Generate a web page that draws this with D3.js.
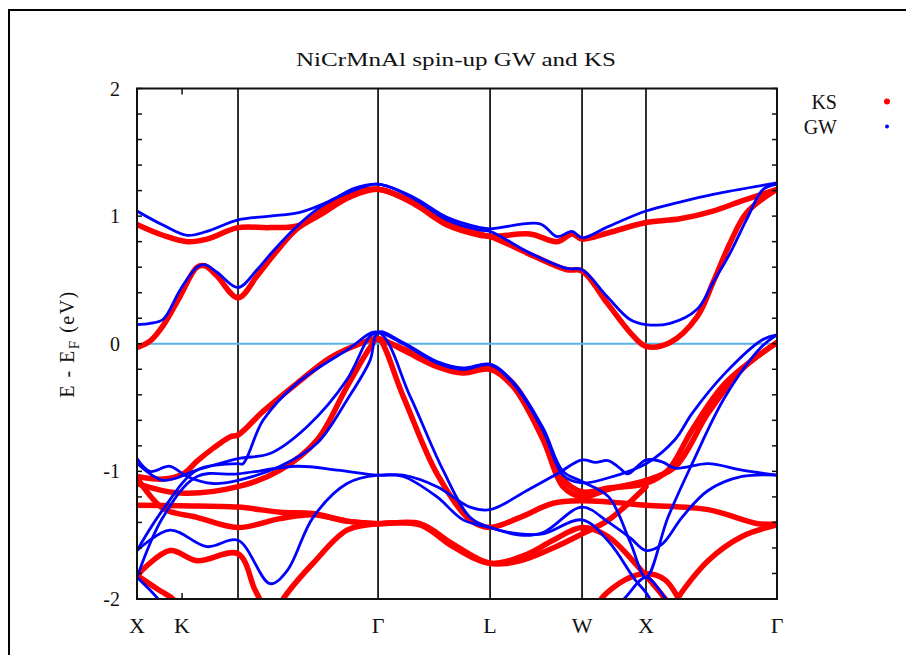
<!DOCTYPE html>
<html>
<head>
<meta charset="utf-8">
<script src="https://cdn.jsdelivr.net/npm/d3@7"></script>
<style>
  body { margin: 0; background: #fff; }
  text { font-family: "Liberation Serif", "Times New Roman", serif; fill: #111; }
</style>
</head>
<body>
<div class="chart"></div>
<script>
// k-path (2pi/a units) and labels
var kPoints = [0, 0.344, 0.771, 1.840, 2.695, 3.397, 3.885, 4.885];
var kLabels = ["X", "K", "", "Γ", "L", "W", "X", "Γ"];
var kLines = [0.771, 1.840, 2.695, 3.397, 3.885];
var yTickValues = [-2, -1, 0, 1, 2];

// KS bands, [k, E - E_F]
var ksA = [[0,0.935],[0.198,0.85],[0.382,0.80],[0.534,0.82],[0.771,0.91],[1.015,0.91],[1.244,0.93],[1.473,1.09],[1.664,1.19],[1.840,1.21],[2.107,1.11],[2.366,0.95],[2.618,0.86],[2.695,0.84],[3.0,0.86],[3.206,0.80],[3.321,0.86],[3.397,0.82],[3.6,0.87],[3.885,0.95],[4.145,0.98],[4.397,1.04],[4.618,1.12],[4.885,1.21]];
var ksB = [[0,-0.03],[0.099,0.02],[0.198,0.14],[0.328,0.37],[0.458,0.60],[0.519,0.61],[0.611,0.53],[0.771,0.36],[0.916,0.53],[1.038,0.69],[1.221,0.90],[1.397,1.01],[1.626,1.15],[1.840,1.21],[2.107,1.10],[2.366,0.93],[2.618,0.85],[2.695,0.84],[3.0,0.70],[3.282,0.58],[3.397,0.57],[3.588,0.32],[3.763,0.09],[3.885,-0.02],[4.069,0.01],[4.275,0.21],[4.397,0.48],[4.527,0.79],[4.656,1.03],[4.885,1.21]];
var ksV1 = [[0,-1.04],[0.198,-1.06],[0.351,-1.02],[0.458,-0.92],[0.580,-0.82],[0.710,-0.73],[0.771,-0.715],[0.962,-0.53],[1.221,-0.31],[1.473,-0.11],[1.679,-0.01],[1.840,0.04],[2.031,-0.05],[2.290,-0.18],[2.489,-0.23],[2.695,-0.20],[2.870,-0.335],[3.099,-0.75],[3.252,-1.12],[3.397,-1.20],[3.6,-1.14],[3.885,-1.07],[4.107,-0.965],[4.359,-0.545],[4.618,-0.20],[4.885,0.01]];
var ksV2 = [[0,-1.095],[0.328,-1.17],[0.771,-1.12],[1.092,-0.99],[1.374,-0.755],[1.603,-0.335],[1.779,-0.03],[1.840,0.04],[2.031,-0.41],[2.290,-1.02],[2.542,-1.38],[2.695,-1.44],[2.924,-1.36],[3.176,-1.25],[3.397,-1.23],[3.6,-1.24],[3.885,-1.265],[4.359,-1.30],[4.740,-1.41],[4.885,-1.41]];
var ksV2b = [[1.840,0.04],[2.031,-0.04],[2.290,-0.16],[2.489,-0.21],[2.695,-0.19],[2.870,-0.31],[3.099,-0.70],[3.252,-1.06],[3.397,-1.16],[3.6,-1.13],[3.885,-1.095],[4.053,-0.99],[4.237,-0.675],[4.489,-0.31],[4.885,0.01]];
var ksV3 = [[0,-1.265],[0.328,-1.27],[0.771,-1.28],[1.092,-1.32],[1.344,-1.33],[1.603,-1.39],[1.840,-1.41],[2.160,-1.41],[2.412,-1.57],[2.695,-1.72],[2.924,-1.70],[3.176,-1.60],[3.397,-1.49],[3.6,-1.38],[3.885,-1.12]];
var ksV3b = [[1.840,-1.41],[2.160,-1.42],[2.412,-1.59],[2.695,-1.72],[2.977,-1.65],[3.176,-1.54],[3.397,-1.44],[3.595,-1.51],[3.802,-1.72],[3.977,-1.93],[4.07,-2.05]];
var ksV4 = [[0,-1.05],[0.198,-1.29],[0.458,-1.36],[0.771,-1.44],[1.092,-1.37],[1.344,-1.34],[1.603,-1.39],[1.840,-1.41]];
var ksV5 = [[0,-1.815],[0.252,-1.62],[0.458,-1.70],[0.771,-1.645],[0.901,-1.93],[0.99,-2.1]];
var ksV6 = [[0,-1.815],[0.153,-1.92],[0.275,-2.0],[0.33,-2.06]];
var ksV7 = [[1.06,-2.1],[1.115,-2.0],[1.221,-1.86],[1.344,-1.72],[1.603,-1.46],[1.840,-1.41]];
var ksX1 = [[3.52,-2.05],[3.550,-1.99],[3.725,-1.85],[3.885,-1.80],[4.031,-1.85],[4.130,-1.99],[4.16,-2.05]];
var ksX2 = [[4.10,-2.05],[4.130,-1.99],[4.359,-1.70],[4.618,-1.51],[4.885,-1.42]];

// GW bands, [k, E - E_F]
var gwA = [[0,1.04],[0.198,0.93],[0.382,0.85],[0.534,0.88],[0.771,0.97],[1.015,1.0],[1.244,1.03],[1.473,1.12],[1.664,1.22],[1.840,1.25],[2.107,1.15],[2.366,0.99],[2.618,0.91],[2.695,0.90],[3.076,0.94],[3.206,0.84],[3.321,0.88],[3.397,0.83],[3.6,0.92],[3.885,1.04],[4.145,1.11],[4.397,1.17],[4.885,1.26]];
var gwB = [[0,0.15],[0.099,0.16],[0.198,0.19],[0.328,0.42],[0.458,0.60],[0.519,0.62],[0.611,0.56],[0.771,0.44],[0.916,0.58],[1.038,0.725],[1.221,0.92],[1.397,1.07],[1.626,1.19],[1.840,1.25],[2.107,1.14],[2.366,0.97],[2.618,0.89],[2.695,0.88],[3.0,0.71],[3.282,0.59],[3.397,0.58],[3.588,0.37],[3.763,0.19],[3.885,0.15],[4.069,0.16],[4.275,0.27],[4.397,0.48],[4.527,0.71],[4.656,0.98],[4.779,1.21],[4.885,1.25]];
var gwV1 = [[0,-0.935],[0.198,-1.07],[0.458,-0.99],[0.771,-0.90],[1.015,-0.86],[1.298,-0.65],[1.603,-0.28],[1.779,0.06],[1.840,0.09],[2.031,0.0],[2.290,-0.15],[2.489,-0.20],[2.695,-0.165],[2.870,-0.31],[3.099,-0.68],[3.252,-1.03],[3.397,-1.09],[3.6,-1.05],[3.885,-0.94],[4.107,-0.75],[4.237,-0.545],[4.489,-0.23],[4.771,0.03],[4.885,0.07]];
var gwV2 = [[0,-1.62],[0.198,-1.30],[0.458,-0.99],[0.771,-0.94],[0.809,-0.94],[0.962,-0.60],[1.221,-0.31],[1.603,-0.05],[1.840,0.09],[2.084,-0.41],[2.336,-0.99],[2.542,-1.36],[2.695,-1.44],[2.924,-1.49],[3.099,-1.49],[3.397,-1.38],[3.6,-1.55],[3.802,-1.85],[3.885,-1.95],[3.95,-2.06]];
var gwV3 = [[0,-1.83],[0.198,-1.36],[0.458,-1.04],[0.771,-1.02],[1.221,-0.96],[1.527,-0.99],[1.840,-1.03],[2.031,-1.03],[2.290,-1.12],[2.542,-1.28],[2.695,-1.30],[2.977,-1.15],[3.206,-1.02],[3.397,-0.91],[3.5,-0.93],[3.595,-0.915],[3.680,-0.97],[3.748,-1.02],[3.820,-0.96],[3.885,-0.91],[4.008,-0.925],[4.107,-0.975],[4.359,-0.94],[4.618,-0.99],[4.885,-1.03]];
var gwV4 = [[0,-0.90],[0.099,-1.00],[0.252,-0.96],[0.382,-1.04],[0.580,-1.095],[0.771,-1.07],[1.092,-0.96],[1.374,-0.78],[1.603,-0.44],[1.779,-0.13],[1.840,0.09],[2.031,0.01],[2.290,-0.14],[2.489,-0.19],[2.695,-0.16],[2.870,-0.30],[3.099,-0.66],[3.252,-1.0],[3.397,-1.08],[3.6,-1.2],[3.763,-1.55],[3.885,-1.83],[4.053,-1.36],[4.237,-0.94],[4.489,-0.415],[4.771,-0.02],[4.885,0.07]];
var gwV5 = [[0,-1.62],[0.252,-1.46],[0.534,-1.59],[0.771,-1.54],[1.015,-1.88],[1.145,-1.78],[1.344,-1.36],[1.603,-1.095],[1.840,-1.03],[2.031,-1.04],[2.290,-1.20],[2.489,-1.38],[2.695,-1.44],[2.924,-1.50],[3.099,-1.48],[3.397,-1.28],[3.6,-1.40],[3.763,-1.52],[3.885,-1.62],[4.008,-1.57],[4.160,-1.36],[4.359,-1.15],[4.618,-1.04],[4.885,-1.03]];
var gwV6 = [[0,-1.83],[0.099,-1.93],[0.153,-1.99],[0.2,-2.06]];
var gwX1 = [[3.65,-2.05],[3.725,-1.99],[3.885,-1.83],[4.031,-1.99],[4.08,-2.05]];

var ksBands = [ksA, ksB, ksV1, ksV2, ksV2b, ksV3, ksV3b, ksV4, ksV5, ksV6, ksV7, ksX1, ksX2];
var gwBands = [gwA, gwB, gwV1, gwV2, gwV3, gwV4, gwV5, gwV6, gwX1];

var svgWidth = 906;
var svgHeight = 655;
var margin = { top: 88.5, right: 129, bottom: 56, left: 137 };
var width = svgWidth - margin.left - margin.right;
var height = svgHeight - margin.top - margin.bottom;

var svg = d3.select(".chart")
  .append("svg")
  .attr("width", svgWidth)
  .attr("height", svgHeight);

// outer frame
svg.append("rect")
  .attr("x", 9).attr("y", 10)
  .attr("width", 1000).attr("height", 1000)
  .attr("fill", "none").attr("stroke", "#000").attr("stroke-width", 2);

var chartGroup = svg.append("g")
  .attr("transform", `translate(${margin.left}, ${margin.top})`);

var xScale = d3.scaleLinear().domain([0, 4.885]).range([0, width]);
var yScale = d3.scaleLinear().domain([-2, 2]).range([height, 0]);

chartGroup.append("clipPath").attr("id", "plotclip")
  .append("rect").attr("width", width).attr("height", height);

// high-symmetry lines
chartGroup.selectAll(".kline")
  .data(kLines)
  .enter()
  .append("line")
  .attr("x1", d => xScale(d)).attr("x2", d => xScale(d))
  .attr("y1", 0).attr("y2", height)
  .attr("stroke", "#1a1a1a").attr("stroke-width", 1.8);

// Fermi level
chartGroup.append("line")
  .attr("x1", 0).attr("x2", width)
  .attr("y1", yScale(0)).attr("y2", yScale(0))
  .attr("stroke", "#56b4e9").attr("stroke-width", 1.8);

var line = d3.line()
  .x(d => xScale(d[0]))
  .y(d => yScale(d[1]))
  .curve(d3.curveCatmullRom.alpha(0.5));

var bandGroup = chartGroup.append("g").attr("clip-path", "url(#plotclip)");

bandGroup.selectAll(".ks")
  .data(ksBands)
  .enter()
  .append("path")
  .attr("d", line)
  .attr("fill", "none")
  .attr("stroke", "#ff0000")
  .attr("stroke-width", 5.5)
  .attr("stroke-linecap", "round")
  .attr("stroke-linejoin", "round");

bandGroup.selectAll(".gw")
  .data(gwBands)
  .enter()
  .append("path")
  .attr("d", line)
  .attr("fill", "none")
  .attr("stroke", "#0000ff")
  .attr("stroke-width", 2.8)
  .attr("stroke-linecap", "round")
  .attr("stroke-linejoin", "round");

// minor y ticks (left and right, pointing in)
var minorTicks = d3.range(-2, 2.001, 0.2);
chartGroup.selectAll(".ytl")
  .data(minorTicks).enter().append("line")
  .attr("x1", 0).attr("x2", 5)
  .attr("y1", d => yScale(d)).attr("y2", d => yScale(d))
  .attr("stroke", "#111").attr("stroke-width", 1.5);
chartGroup.selectAll(".ytr")
  .data(minorTicks).enter().append("line")
  .attr("x1", width - 5).attr("x2", width)
  .attr("y1", d => yScale(d)).attr("y2", d => yScale(d))
  .attr("stroke", "#111").attr("stroke-width", 1.5);

// K tick top and bottom
chartGroup.append("line")
  .attr("x1", xScale(kPoints[1])).attr("x2", xScale(kPoints[1]))
  .attr("y1", 0).attr("y2", 6)
  .attr("stroke", "#111").attr("stroke-width", 1.5);
chartGroup.append("line")
  .attr("x1", xScale(kPoints[1])).attr("x2", xScale(kPoints[1]))
  .attr("y1", height - 6).attr("y2", height)
  .attr("stroke", "#111").attr("stroke-width", 1.5);

// frame
chartGroup.append("rect")
  .attr("width", width).attr("height", height)
  .attr("fill", "none").attr("stroke", "#111").attr("stroke-width", 2);

// y tick labels
chartGroup.selectAll(".ylab")
  .data(yTickValues).enter().append("text")
  .attr("x", -17)
  .attr("y", d => yScale(d) + 7)
  .attr("text-anchor", "end")
  .attr("font-size", "20px")
  .text(d => d);

// k labels
chartGroup.selectAll(".klab")
  .data(kPoints).enter().append("text")
  .attr("x", d => xScale(d))
  .attr("y", height + 34)
  .attr("text-anchor", "middle")
  .attr("font-size", "22px")
  .text((d, i) => kLabels[i]);

// title
svg.append("text")
  .attr("x", 456).attr("y", 66)
  .attr("text-anchor", "middle")
  .attr("font-size", "19px")
  .attr("textLength", 320)
  .attr("lengthAdjust", "spacingAndGlyphs")
  .text("NiCrMnAl spin-up GW and KS");

// y axis label
var yLabel = svg.append("text")
  .attr("transform", "translate(74, 344) rotate(-90)")
  .attr("text-anchor", "middle")
  .attr("font-size", "20px")
  .attr("letter-spacing", "1.5px");
yLabel.append("tspan").text("E - E");
yLabel.append("tspan").attr("font-size", "15px").attr("dy", 5).text("F");
yLabel.append("tspan").attr("dy", -5).text(" (eV)");

// legend
var legendNames = ["KS", "GW"];
var legendColors = ["#ff0000", "#0000ff"];
var legendRadius = [3, 2];
svg.selectAll(".legtext")
  .data(legendNames).enter().append("text")
  .attr("x", 837)
  .attr("y", (d, i) => 109 + i * 25)
  .attr("text-anchor", "end")
  .attr("font-size", "20px")
  .text(d => d);
svg.selectAll(".legdot")
  .data(legendNames).enter().append("circle")
  .attr("cx", 887)
  .attr("cy", (d, i) => 101.5 + i * 25)
  .attr("r", (d, i) => legendRadius[i])
  .attr("fill", (d, i) => legendColors[i]);
</script>
</body>
</html>
